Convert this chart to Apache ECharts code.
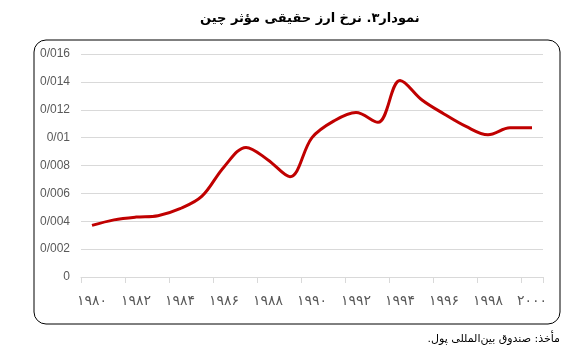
<!DOCTYPE html>
<html><head><meta charset="utf-8">
<script src="https://cdn.jsdelivr.net/npm/echarts@6/dist/echarts.min.js"></script>
<style>html,body{margin:0;padding:0;background:#fff}#c{width:584px;height:358px}</style>
</head><body><div id="c"></div>
<script>
var years = ['۱۹۸۰','۱۹۸۱','۱۹۸۲','۱۹۸۳','۱۹۸۴','۱۹۸۵','۱۹۸۶','۱۹۸۷','۱۹۸۸','۱۹۸۹','۱۹۹۰','۱۹۹۱','۱۹۹۲','۱۹۹۳','۱۹۹۴','۱۹۹۵','۱۹۹۶','۱۹۹۷','۱۹۹۸','۱۹۹۹','۲۰۰۰'];
var values = [0.0037,0.0041,0.0043,0.0044,0.0049,0.0058,0.0079,0.0093,0.0084,0.0072,0.0100,0.0112,0.0118,0.0111,0.0141,0.0127,0.0117,0.0108,0.0102,0.0107,0.0107];
var titleText = 'نمودار۳. نرخ ارز حقیقی مؤثر چین';
var sourceText = 'مأخذ: صندوق بین‌المللی پول.\u200F';

var chart = echarts.init(document.getElementById('c'), null, {renderer:'canvas'});
chart.setOption({
  animation:false,
  graphic:[
    {type:'rect', shape:{x:34,y:40,width:526,height:284,r:12}, style:{fill:'none',stroke:'#000',lineWidth:1}},
    {type:'text', left:200, top:12, style:{text:titleText, font:'bold 13px "DejaVu Sans"', fill:'#000'}},
    {type:'text', right:24, top:334, style:{text:sourceText, font:'11px "DejaVu Sans"', fill:'#000'}}
  ],
  grid:{left:81,right:41,top:54,bottom:81},
  xAxis:{
    type:'category', data:years, boundaryGap:true,
    axisLine:{show:true,lineStyle:{color:'#d9d9d9'}},
    axisTick:{show:true,length:6,lineStyle:{color:'#d9d9d9'}},
    axisLabel:{interval:1,color:'#595959',fontFamily:'DejaVu Sans',fontSize:14,margin:17}
  },
  yAxis:{
    type:'value', min:0, max:0.016, interval:0.002,
    axisLine:{show:false}, axisTick:{show:false},
    splitLine:{lineStyle:{color:'#d9d9d9'}},
    axisLabel:{color:'#595959',fontFamily:'Liberation Sans',fontSize:12,margin:11,
      formatter:function(v){ if(v===0) return '0'; return String(+v.toFixed(3)).replace('.', '/'); }}
  },
  series:[{type:'line', data:values, smooth:0.35, symbol:'none',
    lineStyle:{color:'#C00000',width:3}}]
});
</script></body></html>
